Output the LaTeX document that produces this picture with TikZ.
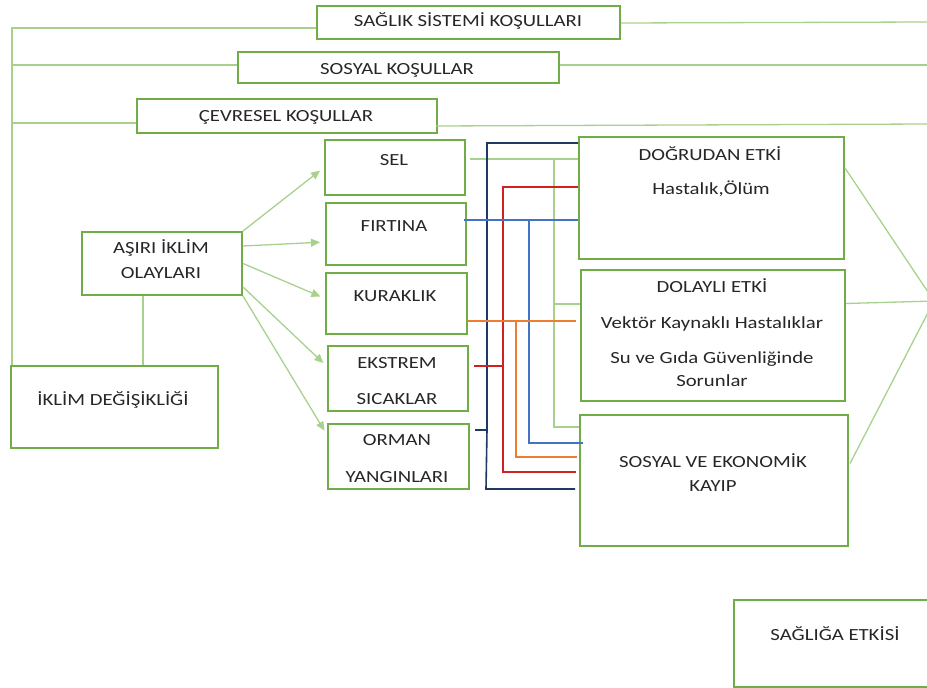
\documentclass[tikz,border=0pt]{standalone}
\usepackage{fontspec}
\setmainfont[FakeStretch=1.22]{Carlito}
\usetikzlibrary{arrows.meta}
\definecolor{boxgreen}{HTML}{70AD47}
\definecolor{linkgreen}{HTML}{A9D18E}
\definecolor{linknavy}{HTML}{1F3864}
\definecolor{linkred}{HTML}{D02020}
\definecolor{linkblue}{HTML}{4472C4}
\definecolor{linkorange}{HTML}{ED7D31}
\definecolor{txt}{HTML}{262626}
\begin{document}
\begin{tikzpicture}[x=1pt,y=-1pt,
  box/.style={draw=boxgreen, line width=2pt, inner sep=0pt, anchor=north west},
  lbl/.style={text=txt, font=\fontsize{17}{20}\selectfont, inner sep=0pt, anchor=base},
  lg/.style={draw=linkgreen, line width=1.8pt},
  thin/.style={draw=linkgreen, line width=1.3pt},
  arr/.style={draw=linkgreen, line width=1.3pt, -{Triangle[length=9pt,width=8pt]}, shorten >=5pt},
  wire/.style={line width=1.6pt}]
\useasboundingbox (0,0) rectangle (927,688);
\clip (0,0) rectangle (927,688);

% ---- boxes (north-west corner, width, height) ----
\node[box, minimum width=303, minimum height=33] (sag) at (316,5) {};
\node[box, minimum width=321, minimum height=31] (sos) at (237,51) {};
\node[box, minimum width=300, minimum height=34] (cev) at (136,98) {};
\node[box, minimum width=160, minimum height=63] (asiri) at (81,231) {};
\node[box, minimum width=207, minimum height=82] (ikl) at (10,365) {};
\node[box, minimum width=140, minimum height=55] (sel) at (324,139) {};
\node[box, minimum width=140, minimum height=62] (fir) at (325,202) {};
\node[box, minimum width=141, minimum height=61] (kur) at (325,272) {};
\node[box, minimum width=140, minimum height=65] (eks) at (327,345) {};
\node[box, minimum width=141, minimum height=65] (orm) at (327,423) {};
\node[box, minimum width=265, minimum height=122] (dog) at (578,136) {};
\node[box, minimum width=264, minimum height=131] (dol) at (580,269) {};
\node[box, minimum width=268, minimum height=131] (sek) at (579,414) {};
\node[box, minimum width=220, minimum height=87] (sae) at (733,599) {};

% ---- texts ----
\node[lbl] (tsag) at (468,27) {SAĞLIK SİSTEMİ KOŞULLARI};
\node[lbl] (tsos) at (397,74) {SOSYAL KOŞULLAR};
\node[lbl] (tcev) at (286,121) {ÇEVRESEL KOŞULLAR};
\node[lbl] (tas1) at (161,253) {AŞIRI İKLİM};
\node[lbl] (tas2) at (161,278) {OLAYLARI};
\node[lbl] (tikl) at (113,405) {İKLİM DEĞİŞİKLİĞİ};
\node[lbl] (tsel) at (394,165) {SEL};
\node[lbl] (tfir) at (394,231) {FIRTINA};
\node[lbl] (tkur) at (395,301) {KURAKLIK};
\node[lbl] (teks1) at (397,368) {EKSTREM};
\node[lbl] (teks2) at (397,404) {SICAKLAR};
\node[lbl] (torm1) at (397,445) {ORMAN};
\node[lbl] (torm2) at (397,482) {YANGINLARI};
\node[lbl] (tdog1) at (710,160) {DOĞRUDAN ETKİ};
\node[lbl] (tdog2) at (711,194) {Hastalık,Ölüm};
\node[lbl] (tdol1) at (712,292) {DOLAYLI ETKİ};
\node[lbl] (tdol2) at (712,328) {Vektör Kaynaklı Hastalıklar};
\node[lbl] (tdol3) at (712,363) {Su ve Gıda Güvenliğinde};
\node[lbl] (tdol4) at (712,386) {Sorunlar};
\node[lbl] (tsek1) at (713,467) {SOSYAL VE EKONOMİK};
\node[lbl] (tsek2) at (713,491) {KAYIP};
\node[lbl] (tsae) at (835,640) {SAĞLIĞA ETKİSİ};

% ---- left bus joining the conditions to climate change ----
\coordinate (l1) at (12,28);
\coordinate (l2) at (12,65);
\coordinate (l3) at (12,123);
\draw[lg] ([xshift=2pt]ikl.north west) -- (l1) -- (sag.west |- l1);
\draw[lg] (l2) -- (sos.west |- l2);
\draw[lg] (l3) -- (cev.west |- l3);
\draw[lg] ([xshift=-19pt]asiri.south) -- ([xshift=28.5pt]ikl.north);

% ---- lines leaving to the right ----
\coordinate (r1) at (927,22);
\coordinate (r2) at (927,65);
\coordinate (r3a) at (436,126);
\coordinate (r3) at (927,124);
\draw[thin] ([yshift=-0.5pt]sag.east) -- (r1);
\draw[thin] (sos.east |- r2) -- (r2);
\draw[thin] (r3a) -- (r3);

% ---- extreme events ----
\draw[arr] (asiri.north east) -- (sel.west);
\draw[arr] ([yshift=-15pt]asiri.north east) -- ([yshift=-8pt]fir.west);
\draw[arr] (asiri.east) -- ([yshift=5pt]kur.west);
\draw[arr] ([yshift=9pt]asiri.south east) -- ([yshift=12pt]eks.west);
\draw[arr] (asiri.south east) -- ([yshift=-12pt]orm.north west);

% ---- SEL (light green) ----
\coordinate (gT) at (554,159);
\coordinate (gM) at (554,304);
\coordinate (gB) at (554,427);
\draw[lg, shorten <=4pt] (sel.east |- gT) -- (dog.west |- gT);
\draw[lg] (gT) -- (gB) -- (sek.west |- gB);
\draw[lg] (gM) -- (dol.west |- gM);

% ---- ORMAN YANGINLARI (navy) ----
\coordinate (nT) at (487,143);
\coordinate (nM) at (487,430);
\coordinate (nB) at (486,489);
\draw[wire, linknavy, shorten <=5pt] (orm.east |- nM) -- (nM);
\draw[wire, linknavy] (dog.west |- nT) -- (nT) -- (nM) -- (nB) -- ([xshift=-4pt]sek.west |- nB);

% ---- EKSTREM SICAKLAR (red) ----
\coordinate (rT) at (503,187);
\coordinate (rM) at (503,366);
\coordinate (rB) at (503,472);
\draw[wire, linkred, shorten <=5pt] (eks.east |- rM) -- (rM);
\draw[wire, linkred] (dog.west |- rT) -- (rT) -- (rB) -- ([xshift=-3pt]sek.west |- rB);

% ---- FIRTINA (blue) ----
\coordinate (bT) at (529,220);
\coordinate (bB) at (529,443);
\draw[wire, linkblue, shorten <=-3pt] (fir.east |- bT) -- (dog.west |- bT);
\draw[wire, linkblue] (bT) -- (bB) -- ([xshift=4pt]sek.west |- bB);

% ---- KURAKLIK (orange) ----
\coordinate (oT) at (516,321);
\coordinate (oB) at (516,457);
\draw[wire, linkorange] (kur.east |- oT) -- ([xshift=-4pt]dol.west |- oT);
\draw[wire, linkorange] (oT) -- (oB) -- ([xshift=-2pt]sek.west |- oB);

% ---- effects converging towards health impact ----
\coordinate (hp) at (934,301);
\draw[thin] ([yshift=30pt]dog.east) -- (hp);
\draw[thin] ([yshift=32pt]dol.east) -- (hp);
\draw[thin] ([xshift=1pt,yshift=17pt]sek.east) -- (hp);
\end{tikzpicture}
\end{document}
